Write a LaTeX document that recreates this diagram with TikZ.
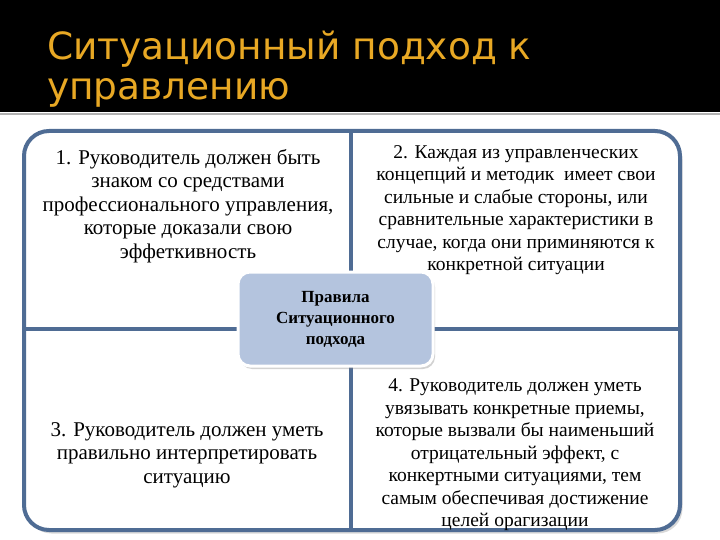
\documentclass[tikz,border=0pt]{standalone}
\usepackage{fontspec}
\setmainfont{Liberation Serif}
\newfontfamily\titlefont{DejaVu Sans}
\usetikzlibrary{shadows,positioning}
\definecolor{frameblue}{RGB}{79,108,148}
\definecolor{rulefill}{RGB}{180,196,222}
\definecolor{titleorange}{RGB}{232,168,36}

\begin{document}
\begin{tikzpicture}[x=1pt,y=-1pt,
   frame/.style={draw=frameblue,line width=4pt},
   cell/.style={align=center,inner sep=0pt,font=\fontsize{19.5}{22.5}\selectfont},
   bigcell/.style={cell,font=\fontsize{21}{23.5}\selectfont},
   rules/.style={draw=white,line width=3pt,fill=rulefill,rounded corners=12pt,
     minimum width=195pt,minimum height=94pt,align=center,inner sep=0pt,
     font=\fontsize{17}{21}\selectfont\bfseries,
     drop shadow={shadow xshift=2pt,shadow yshift=-3pt,opacity=.35}},
   head/.style={anchor=base west,inner sep=0pt,text=titleorange,
     font=\titlefont\fontsize{37.5}{40}\selectfont}]
  \useasboundingbox (0,0) rectangle (720,540);
  \fill[black] (0,0) rectangle (720,112);
  \draw[gray!60,line width=1.5pt] (0,114) -- (720,114);
  \node[head] (title) at (47,60) {Ситуационный подход к};
  \node[head] (title2) at (47,100) {управлению};

  \coordinate (top) at (351,131);
  \coordinate (bot) at (351,530);
  \coordinate (lft) at (24,329);
  \coordinate (rgt) at (680,329);
  \draw[frame,fill=white,rounded corners=25pt,
    drop shadow={shadow xshift=2.5pt,shadow yshift=-3.5pt,opacity=.3}]
    (24,131) rectangle (680,530);
  \draw[frame] (top) -- (bot);
  \draw[frame] (lft) -- (rgt);

  \node[bigcell] (q1) at (188,206) {1. Руководитель должен быть\\знаком со средствами\\профессионального управления,\\которые доказали свою\\эффеткивность};
  \node[cell] (q2) at (516,210) {2. Каждая из управленческих\\концепций и методик~ имеет свои\\сильные и слабые стороны, или\\сравнительные характеристики в\\случае, когда они приминяются к\\конкретной ситуации};
  \node[bigcell] (q3) at (187,455) {3. Руководитель должен уметь\\правильно интерпретировать\\ситуацию};
  \node[cell] (q4) at (515,455) {4. Руководитель должен уметь\\увязывать конкретные приемы,\\которые вызвали бы наименьший\\отрицательный эффект, с\\конкертными ситуациями, тем\\самым обеспечивая достижение\\целей орагизации};

  \node[rules] (rule) at (335.5,319) {Правила\\Ситуационного\\подхода};
\end{tikzpicture}
\end{document}
